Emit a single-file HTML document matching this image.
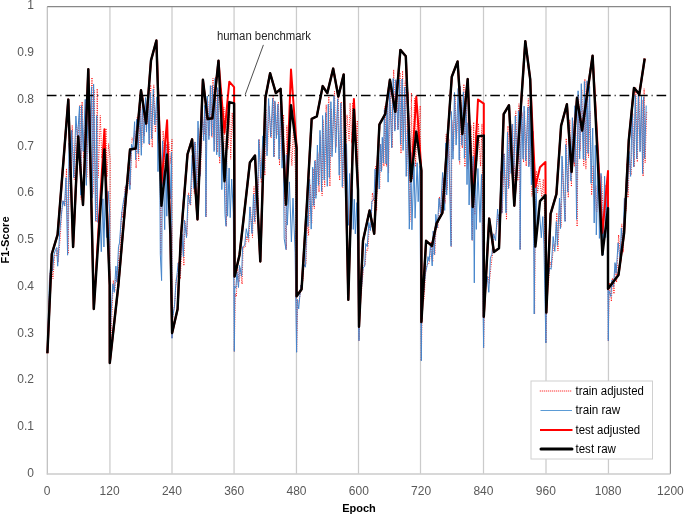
<!DOCTYPE html>
<html><head><meta charset="utf-8"><style>
html,body{margin:0;padding:0;background:#fff;}
svg{display:block;position:absolute;left:0;top:0;}
#t{will-change:transform;}
#w{position:relative;width:685px;height:516px;overflow:hidden;}
text{font-family:"Liberation Sans",sans-serif;}
</style></head><body>
<div id="w"><svg width="685" height="516" viewBox="0 0 685 516">
<rect width="685" height="516" fill="#fff"/>
<line x1="109.93" y1="6.66" x2="109.93" y2="473.80" stroke="#cbcbcb" stroke-width="1.25"/>
<line x1="172.00" y1="6.66" x2="172.00" y2="473.80" stroke="#cbcbcb" stroke-width="1.25"/>
<line x1="234.07" y1="6.66" x2="234.07" y2="473.80" stroke="#cbcbcb" stroke-width="1.25"/>
<line x1="296.45" y1="6.66" x2="296.45" y2="473.80" stroke="#cbcbcb" stroke-width="1.25"/>
<line x1="358.50" y1="6.66" x2="358.50" y2="473.80" stroke="#cbcbcb" stroke-width="1.25"/>
<line x1="420.50" y1="6.66" x2="420.50" y2="473.80" stroke="#cbcbcb" stroke-width="1.25"/>
<line x1="483.50" y1="6.66" x2="483.50" y2="473.80" stroke="#cbcbcb" stroke-width="1.25"/>
<line x1="546.00" y1="6.66" x2="546.00" y2="473.80" stroke="#cbcbcb" stroke-width="1.25"/>
<line x1="608.45" y1="6.66" x2="608.45" y2="473.80" stroke="#cbcbcb" stroke-width="1.25"/>
<line x1="47.3" y1="6.66" x2="47.3" y2="474.6" stroke="#bdbdbd" stroke-width="1.2"/>
<line x1="46.8" y1="474.0" x2="670.38" y2="474.0" stroke="#cbcbcb" stroke-width="1.5"/>
<polyline points="47.24,6.66 670.38,6.66 670.38,473.80" fill="none" stroke="#888" stroke-width="1.1"/>
<polyline points="47.3,352.3 48.3,333.7 49.9,274.1 51.5,268.4 53.0,278.7 54.6,255.4 56.1,256.0 57.2,248.7 58.2,261.9 60.3,236.2 61.9,208.6 63.4,200.5 65.0,206.0 66.5,168.5 68.1,253.8 69.6,149.6 71.2,173.6 72.2,125.3 74.3,180.0 76.4,123.9 78.0,138.1 80.0,105.2 81.1,199.3 82.1,101.7 83.7,158.0 85.7,99.3 86.8,177.8 88.9,84.1 89.9,147.8 92.0,77.5 93.0,193.5 94.1,90.0 96.1,222.1 97.2,88.7 98.2,177.6 100.3,115.5 101.8,158.2 103.4,143.9 104.4,175.8 106.0,128.3 107.0,177.0 108.6,143.5 110.2,159.3 109.7,363.1 110.7,350.2 111.7,320.1 113.3,280.4 114.8,291.1 116.4,271.0 117.4,281.6 119.0,252.2 120.0,249.7 121.6,212.1 122.6,217.8 124.2,200.3 125.2,186.6 126.3,195.0 127.8,188.0 129.4,166.9 130.4,185.2 132.0,137.8 133.5,141.4 135.1,130.5 136.1,168.2 137.2,117.0 138.7,160.8 140.3,102.0 141.8,146.4 142.9,96.1 144.4,135.9 146.0,106.0 147.0,123.8 148.1,94.9 149.6,145.1 150.7,84.9 152.2,147.4 153.8,84.9 155.3,132.2 157.4,106.8 158.5,142.7 160.0,129.7 160.7,254.2 162.1,203.5 163.1,130.7 165.2,168.2 166.3,144.1 167.3,167.7 168.8,142.2 170.9,163.7 172.0,139.0 172.0,338.3 173.0,316.3 175.1,299.6 176.1,278.8 177.7,276.2 178.7,262.2 180.3,279.0 182.4,234.4 183.9,265.7 184.9,221.0 187.0,235.3 188.6,192.6 190.7,205.8 192.7,161.4 194.3,193.5 195.3,142.3 196.9,184.7 198.5,127.9 200.5,174.4 202.6,116.7 204.2,134.7 205.2,110.6 206.2,216.9 206.2,136.5 207.8,101.0 209.4,135.8 210.9,85.4 212.0,137.5 213.0,78.3 214.6,150.0 215.6,77.3 217.2,152.2 218.2,89.8 219.7,163.6 221.3,88.4 222.3,151.5 223.9,107.1 225.5,159.3 226.4,226.2 227.0,105.9 228.1,149.1 229.6,111.5 230.7,159.2 232.2,112.6 233.8,145.9 234.3,351.4 235.3,293.7 236.4,296.6 237.4,264.4 239.0,282.0 240.0,267.7 242.1,284.1 243.1,247.5 245.2,247.2 246.8,236.2 248.8,242.1 250.4,206.7 252.5,237.5 254.0,186.7 255.1,223.3 256.6,176.3 258.2,209.8 259.2,139.2 261.3,182.8 263.4,143.6 264.9,175.4 266.0,109.1 267.5,151.1 269.1,106.1 271.2,137.9 273.2,96.5 274.3,157.0 275.3,102.3 276.9,135.1 278.4,102.1 279.5,165.5 281.0,98.5 282.6,160.5 283.6,114.6 284.7,206.9 286.4,249.6 286.8,125.6 287.8,166.4 289.9,135.2 291.9,165.7 293.5,127.0 295.6,176.2 296.6,352.3 297.7,303.9 299.2,299.7 301.3,288.6 302.3,286.2 303.9,267.1 306.0,264.0 307.5,215.6 308.6,235.6 310.1,184.4 311.7,223.6 313.2,168.8 314.3,209.0 315.3,160.3 316.4,195.6 317.9,152.8 319.0,192.2 320.5,135.6 322.1,195.8 323.1,119.9 324.7,186.6 326.2,104.6 327.8,177.4 328.8,95.3 329.9,186.3 331.4,108.4 332.5,150.8 334.5,91.3 336.1,147.2 338.2,90.0 339.7,180.4 341.3,101.7 342.8,187.7 344.9,110.0 346.0,151.4 347.0,114.7 349.1,140.5 350.1,103.1 351.7,143.3 352.7,102.5 353.8,141.7 354.8,122.6 355.8,131.3 357.4,120.5 359.0,340.7 360.0,301.4 361.5,291.7 363.6,265.8 365.2,264.7 366.2,249.5 367.8,250.3 369.3,227.1 370.9,228.6 372.4,192.9 374.5,202.8 375.6,166.1 376.6,210.9 378.2,146.2 379.7,188.6 380.8,143.8 381.8,169.6 382.8,138.2 383.9,166.3 384.9,106.0 386.5,166.4 387.5,93.1 388.6,172.9 390.1,80.3 392.2,147.7 393.7,69.6 395.3,129.5 396.3,81.4 398.4,128.9 400.0,72.6 401.0,153.5 402.6,70.8 403.6,141.9 405.2,80.8 406.7,176.2 408.3,92.7 409.8,167.3 409.9,221.5 411.4,93.0 412.4,178.9 414.5,98.6 415.6,166.7 417.6,109.4 418.7,152.5 420.2,105.7 421.3,360.8 422.3,301.6 423.9,300.7 425.9,268.4 427.5,264.5 428.5,264.5 429.6,261.1 431.1,241.6 432.7,261.9 433.7,234.3 434.8,254.5 436.3,222.9 437.9,228.5 439.5,196.8 441.0,214.5 443.1,178.1 445.2,203.3 446.2,134.2 447.2,189.8 448.8,138.8 450.4,198.5 451.4,246.3 451.9,120.3 453.5,150.4 455.0,97.0 456.6,138.9 458.7,96.7 459.7,164.2 460.7,94.5 462.3,148.1 463.9,84.1 464.9,166.9 466.5,99.2 467.5,168.8 468.5,106.0 469.6,153.3 471.1,125.5 472.2,173.6 472.4,240.2 473.7,122.2 474.8,214.7 475.8,130.8 476.8,160.9 478.4,123.3 480.5,166.4 482.0,123.9 483.6,347.7 484.6,294.0 485.7,288.3 487.8,276.1 489.3,283.6 490.9,267.0 492.4,254.6 494.0,235.7 496.1,232.3 498.1,214.1 500.2,222.9 501.3,176.0 502.3,212.8 504.4,153.3 506.5,219.8 508.0,125.9 509.0,187.4 510.6,120.2 511.6,165.0 512.7,123.8 514.2,182.1 515.8,110.9 517.9,180.9 518.9,103.8 520.4,249.6 520.5,149.1 522.0,112.8 523.6,162.3 524.6,111.0 526.2,166.2 528.3,98.6 529.3,165.2 530.3,133.6 531.9,196.2 533.5,187.1 534.6,314.0 535.5,200.6 536.6,170.8 537.6,192.8 539.7,178.2 541.8,196.8 543.3,179.2 544.4,206.1 545.9,343.0 547.0,288.8 548.5,283.4 550.1,262.0 551.6,266.6 553.7,244.3 555.3,246.4 556.8,212.9 557.9,250.9 560.0,203.3 561.0,227.1 562.5,160.6 564.6,205.7 565.4,221.5 566.2,138.4 568.3,197.6 569.8,119.6 571.4,186.7 572.9,120.5 574.5,166.6 575.5,107.8 577.1,226.6 578.6,95.9 580.2,150.5 581.8,89.5 583.8,166.0 584.9,79.1 585.9,169.1 587.5,84.8 588.5,157.5 590.1,111.4 591.6,195.1 593.2,165.4 594.7,210.2 595.8,185.5 596.8,211.8 598.9,175.3 599.9,202.1 601.5,175.7 603.6,224.0 605.1,184.9 606.2,227.9 607.7,186.4 608.3,340.7 609.3,282.7 611.4,301.4 612.4,278.1 614.0,293.9 615.5,263.9 616.6,282.3 618.6,234.9 620.7,261.1 621.8,223.9 623.3,252.2 624.9,199.4 625.9,210.7 627.0,163.4 628.0,197.7 629.5,157.5 631.1,174.9 632.7,113.5 634.2,167.0 635.8,87.6 637.3,162.0 638.9,93.7 640.5,150.8 642.0,99.7 643.1,176.4 644.1,88.6 645.1,162.9 646.7,111.9" fill="none" stroke="#ff0000" stroke-width="1" stroke-dasharray="0.9 1.4"/>
<polyline points="47.3,352.3 47.8,336.8 49.4,280.7 51.0,263.6 52.5,270.9 54.1,254.1 55.6,249.7 56.7,247.5 57.7,266.2 59.8,230.7 61.4,214.8 62.9,200.7 64.5,206.1 66.0,177.7 67.6,255.2 69.1,143.0 70.7,173.1 71.7,130.3 73.8,177.6 75.9,116.0 77.5,138.6 79.5,106.1 80.6,195.2 81.6,105.5 83.2,151.4 85.2,99.4 86.3,185.4 88.4,93.4 89.4,153.2 91.5,86.8 92.5,197.9 93.6,84.2 95.6,220.8 96.7,115.5 97.7,222.3 99.8,212.1 101.3,251.7 102.9,198.8 103.9,247.0 105.5,186.3 106.5,237.5 108.1,191.2 109.7,212.9 109.7,363.1 110.2,345.1 111.2,312.0 112.8,283.8 114.3,292.4 115.9,266.1 116.9,282.2 118.5,246.7 119.5,242.9 121.1,220.5 122.1,210.1 123.7,199.9 124.7,195.3 125.8,186.4 127.3,182.0 128.9,169.2 129.9,189.5 131.5,144.3 133.0,148.4 134.6,121.7 135.6,159.7 136.7,119.3 138.2,153.6 139.8,108.8 141.3,155.3 142.4,102.3 143.9,143.3 145.5,97.6 146.5,132.1 147.6,94.6 149.1,144.1 150.2,92.6 151.7,138.8 153.3,89.2 154.8,124.9 156.9,96.9 158.0,171.6 159.5,120.7 160.3,254.2 161.6,280.6 162.6,140.8 164.7,229.7 165.8,144.5 166.8,216.2 168.3,146.6 170.4,198.9 171.5,152.3 172.0,338.3 172.5,318.8 174.6,305.1 175.6,286.9 177.2,272.8 178.2,262.9 179.8,274.6 181.9,234.3 183.4,256.6 184.4,220.0 186.5,237.7 188.1,195.0 190.2,204.5 192.2,155.2 193.8,188.6 194.8,141.9 196.4,192.1 198.0,121.1 200.0,176.2 202.1,111.9 203.7,140.7 204.7,105.4 205.7,144.9 205.8,216.9 207.3,96.1 208.9,139.6 210.4,85.7 211.5,136.0 212.5,85.6 214.1,151.6 215.1,78.4 216.7,154.8 217.7,87.6 219.2,156.8 220.8,105.2 221.8,189.6 223.4,142.4 225.0,214.5 226.0,226.2 226.5,153.8 227.6,216.2 229.1,168.0 230.2,217.6 231.7,179.1 233.3,213.1 234.3,351.4 234.8,286.3 235.9,288.1 236.9,271.7 238.5,287.5 239.5,265.4 241.6,276.3 242.6,246.8 244.7,245.5 246.3,228.7 248.3,238.4 249.9,206.9 252.0,233.5 253.5,194.3 254.6,221.5 256.1,179.8 257.7,203.7 258.7,139.6 260.8,178.4 262.9,135.9 264.4,170.3 265.5,102.1 267.0,155.8 268.6,98.5 270.7,136.8 272.7,98.1 273.8,156.9 274.8,100.9 276.4,138.6 277.9,104.1 279.0,159.2 280.5,106.2 282.1,168.2 283.1,123.6 284.2,238.7 286.0,249.6 286.3,154.7 287.3,225.1 289.4,181.9 291.4,241.9 293.0,198.1 295.1,252.8 296.6,352.3 297.2,299.2 298.7,308.9 300.8,285.0 301.8,288.3 303.4,263.4 305.5,267.2 307.0,215.5 308.1,226.5 309.6,179.2 311.2,229.1 312.7,167.2 313.8,205.6 314.8,160.8 315.9,198.4 317.4,145.0 318.5,185.4 320.0,130.3 321.6,191.4 322.6,115.5 324.2,180.1 325.7,112.6 327.3,186.3 328.3,104.1 329.4,177.4 330.9,101.7 332.0,156.7 334.0,95.8 335.6,152.7 337.7,98.8 339.2,175.2 340.8,103.0 342.3,186.7 344.4,124.2 345.5,201.4 346.5,143.8 348.6,225.3 349.6,173.5 351.2,229.3 352.2,188.9 353.3,229.4 354.3,199.2 355.3,233.9 356.9,202.6 359.0,340.7 359.5,296.5 361.0,293.7 363.1,268.0 364.7,266.1 365.7,243.5 367.3,246.7 368.8,222.5 370.4,230.5 371.9,201.3 374.0,198.9 375.1,169.1 376.1,206.3 377.7,155.3 379.2,189.0 380.3,144.3 381.3,171.5 382.3,137.3 383.4,162.9 384.4,109.7 386.0,163.9 387.0,96.8 388.1,182.1 389.6,86.0 391.7,147.8 393.2,78.5 394.8,131.1 395.8,79.7 397.9,129.9 399.5,79.5 400.5,144.4 402.1,79.0 403.1,150.4 404.7,87.0 406.2,176.4 407.8,129.5 409.3,229.1 409.5,221.5 410.9,152.5 411.9,229.8 414.0,162.5 415.1,218.2 417.1,162.7 418.2,201.7 419.7,165.7 421.3,360.8 421.8,293.2 423.4,293.5 425.4,273.6 427.0,266.0 428.0,256.6 429.1,261.2 430.6,243.7 432.2,265.9 433.2,231.0 434.3,254.9 435.8,214.3 437.4,227.6 439.0,198.3 440.5,212.6 442.6,172.5 444.7,210.4 445.7,142.9 446.7,195.0 448.3,130.5 449.9,196.9 451.0,246.3 451.4,111.5 453.0,159.2 454.5,92.5 456.1,145.1 458.2,88.4 459.2,160.4 460.2,86.2 461.8,145.3 463.4,91.9 464.4,158.2 466.0,91.2 467.0,184.6 468.0,122.8 469.1,205.0 470.6,144.6 471.7,226.5 472.0,240.2 473.2,156.2 474.3,282.9 475.3,161.4 476.3,229.4 477.9,168.5 480.0,222.4 481.5,174.4 483.6,347.7 484.1,293.9 485.2,285.6 487.3,276.6 488.8,292.3 490.4,257.9 491.9,254.3 493.5,233.8 495.6,240.6 497.6,209.1 499.7,231.2 500.8,171.4 501.8,213.3 503.9,153.8 506.0,212.8 507.5,132.2 508.5,188.6 510.1,125.8 511.1,173.5 512.2,124.2 513.7,178.6 515.3,115.9 517.4,176.2 518.4,110.8 520.0,146.8 520.0,249.6 521.5,106.5 523.1,159.2 524.1,106.1 525.7,161.0 527.8,107.3 528.8,166.9 529.8,106.3 531.4,184.8 533.0,131.2 534.2,314.0 535.0,232.1 536.1,183.4 537.1,227.3 539.2,208.3 541.3,237.8 542.8,216.6 543.9,244.3 545.9,343.0 546.5,289.1 548.0,278.6 549.6,267.8 551.1,269.3 553.2,236.5 554.8,251.4 556.3,221.6 557.4,245.4 559.5,198.1 560.5,228.6 562.0,156.1 564.1,202.5 565.0,221.5 565.7,144.5 567.8,192.1 569.3,124.3 570.9,181.0 572.4,117.7 574.0,162.4 575.0,105.7 576.6,219.4 578.1,90.8 579.7,158.9 581.3,83.7 583.3,158.9 584.4,81.5 585.4,160.3 587.0,80.8 588.0,153.4 589.6,86.4 591.1,183.3 592.7,128.0 594.2,223.0 595.3,145.3 596.3,234.9 598.4,159.4 599.4,238.4 601.0,173.4 603.1,255.2 604.6,176.2 605.7,237.6 607.2,180.9 608.3,340.7 608.8,290.7 610.9,296.5 611.9,280.1 613.5,286.9 615.0,262.6 616.1,273.4 618.1,242.9 620.2,259.9 621.3,228.1 622.8,246.1 624.4,198.3 625.4,213.6 626.5,171.9 627.5,191.7 629.0,151.4 630.6,176.4 632.2,106.7 633.7,166.9 635.3,95.3 636.8,158.9 638.4,92.2 640.0,151.8 641.5,96.3 642.6,173.6 643.6,96.9 644.6,158.5 646.2,105.5" fill="none" stroke="#4585cb" stroke-width="1"/>
<polyline points="47.4,353.3 51.8,254.0 57.6,234.6 68.3,99.6 73.1,247.0 78.2,136.5 83.0,205.0 88.3,69.3 93.8,309.0 104.4,129.3 109.7,285.0 109.8,362.9 118.4,285.0 130.0,149.5 135.7,148.5 141.0,90.3 146.1,123.5 151.0,60.4 156.4,40.5 161.4,184.1 167.1,120.3 170.4,235.0 172.1,333.0 177.6,309.0 180.7,240.0 187.5,154.3 192.1,139.3 197.5,219.4 202.9,79.7 207.6,119.0 212.4,118.3 218.5,60.7 224.5,132.8 229.3,81.7 234.1,87.1 234.6,276.4 239.5,255.0 249.9,162.5 255.0,155.5 260.3,261.5 265.4,97.8 270.1,73.2 275.9,93.1 280.6,88.9 286.0,204.6 291.0,69.5 296.9,150.0 296.6,296.2 301.6,289.2 306.8,206.0 311.7,118.8 316.8,116.4 322.7,86.1 327.3,93.1 333.2,68.6 338.3,96.6 343.7,74.4 348.3,299.7 353.9,98.9 358.0,190.0 359.0,326.8 363.0,240.8 369.6,210.4 374.2,233.8 379.4,124.6 385.2,114.1 389.9,79.8 395.3,111.8 400.4,49.9 405.8,56.2 410.9,181.2 416.3,96.6 421.4,170.7 421.4,321.9 426.1,240.8 431.9,245.9 436.6,223.3 442.4,212.8 451.8,76.7 457.6,61.5 462.3,134.0 467.7,79.1 472.8,206.9 478.0,99.6 483.8,103.6 483.8,316.8 489.2,218.6 493.9,252.0 499.0,248.3 503.7,114.1 509.0,105.2 514.3,205.7 519.6,126.0 525.3,41.2 530.2,79.1 535.4,187.0 540.0,167.2 545.4,162.0 546.3,312.6 550.6,213.9 556.4,194.1 561.1,125.8 566.9,104.3 571.6,171.9 577.0,97.8 582.1,130.5 587.3,93.0 592.6,55.7 602.4,233.0 608.0,171.0 608.0,288.8 618.5,274.9 624.1,233.0 628.8,140.0 634.0,87.9 639.3,94.3 644.7,58.5" fill="none" stroke="#ff0000" stroke-width="2" stroke-linejoin="round"/>
<polyline points="47.4,353.3 51.8,254.0 57.6,234.6 68.3,99.6 73.1,247.0 78.2,136.5 83.0,205.0 88.3,69.3 93.8,309.0 104.4,149.5 109.7,285.0 109.8,362.9 118.4,285.0 130.0,149.5 135.7,148.5 141.0,90.3 146.1,123.5 151.0,60.4 156.4,40.5 161.4,205.8 167.1,154.5 170.4,235.0 172.1,333.0 177.6,309.0 180.7,240.0 187.5,154.3 192.1,139.3 197.5,219.4 202.9,79.7 207.6,119.0 212.4,118.3 218.5,60.7 224.5,181.2 229.3,102.1 234.1,103.4 234.6,276.4 239.5,255.0 249.9,162.5 255.0,155.5 260.3,261.5 265.4,97.8 270.1,73.2 275.9,93.1 280.6,88.9 286.0,204.6 291.0,105.2 296.5,148.0 296.6,296.2 301.6,289.2 306.8,206.0 311.7,118.8 316.8,116.4 322.7,86.1 327.3,93.1 333.2,68.6 338.3,96.6 343.7,74.4 348.3,299.7 353.9,109.6 358.0,190.0 359.0,326.8 363.0,240.8 369.6,210.4 374.2,233.8 379.4,124.6 385.2,114.1 389.9,79.8 395.3,111.8 400.4,49.9 405.8,56.2 410.9,181.2 416.3,131.6 421.4,170.7 421.4,321.9 426.1,240.8 431.9,245.9 436.6,223.3 442.4,212.8 451.8,76.7 457.6,61.5 462.3,134.0 467.7,79.1 472.8,206.9 478.0,136.3 483.8,135.6 483.8,316.8 489.2,218.6 493.9,252.0 499.0,248.3 503.7,114.1 509.0,105.2 514.3,205.7 519.6,126.0 525.3,41.2 530.2,79.1 535.4,246.6 540.0,201.1 545.4,195.2 546.3,312.6 550.6,213.9 556.4,194.1 561.1,125.8 566.9,104.3 571.6,171.9 577.0,97.8 582.1,130.5 587.3,93.0 592.6,55.7 602.4,254.7 608.0,208.2 608.0,288.8 618.5,274.9 624.1,233.0 628.8,140.0 634.0,87.9 639.3,94.3 644.7,58.5" fill="none" stroke="#000" stroke-width="2.45" stroke-linejoin="round"/>
<line x1="46.9" y1="95.4" x2="667" y2="95.4" stroke="#000" stroke-width="1.5" stroke-dasharray="9.6 3.9 1 3.975"/>
</svg>
<svg id="t" width="685" height="516" viewBox="0 0 685 516">
<text x="217" y="40.3" font-size="12.5" fill="#262626" textLength="94" lengthAdjust="spacingAndGlyphs">human benchmark</text>
<line x1="263.4" y1="44.9" x2="245.2" y2="94.6" stroke="#222" stroke-width="0.8"/>
<text x="34" y="476.9" font-size="12" fill="#595959" text-anchor="end">0</text>
<text x="34" y="430.1" font-size="12" fill="#595959" text-anchor="end">0.1</text>
<text x="34" y="383.4" font-size="12" fill="#595959" text-anchor="end">0.2</text>
<text x="34" y="336.6" font-size="12" fill="#595959" text-anchor="end">0.3</text>
<text x="34" y="289.9" font-size="12" fill="#595959" text-anchor="end">0.4</text>
<text x="34" y="243.1" font-size="12" fill="#595959" text-anchor="end">0.5</text>
<text x="34" y="196.3" font-size="12" fill="#595959" text-anchor="end">0.6</text>
<text x="34" y="149.6" font-size="12" fill="#595959" text-anchor="end">0.7</text>
<text x="34" y="102.8" font-size="12" fill="#595959" text-anchor="end">0.8</text>
<text x="34" y="56.1" font-size="12" fill="#595959" text-anchor="end">0.9</text>
<text x="34" y="9.3" font-size="12" fill="#595959" text-anchor="end">1</text>
<text x="47.2" y="494.9" font-size="12" fill="#595959" text-anchor="middle">0</text>
<text x="109.6" y="494.9" font-size="12" fill="#595959" text-anchor="middle">120</text>
<text x="171.9" y="494.9" font-size="12" fill="#595959" text-anchor="middle">240</text>
<text x="234.2" y="494.9" font-size="12" fill="#595959" text-anchor="middle">360</text>
<text x="296.5" y="494.9" font-size="12" fill="#595959" text-anchor="middle">480</text>
<text x="358.8" y="494.9" font-size="12" fill="#595959" text-anchor="middle">600</text>
<text x="421.1" y="494.9" font-size="12" fill="#595959" text-anchor="middle">720</text>
<text x="483.4" y="494.9" font-size="12" fill="#595959" text-anchor="middle">840</text>
<text x="545.8" y="494.9" font-size="12" fill="#595959" text-anchor="middle">960</text>
<text x="608.1" y="494.9" font-size="12" fill="#595959" text-anchor="middle">1080</text>
<text x="670.4" y="494.9" font-size="12" fill="#595959" text-anchor="middle">1200</text>
<text x="359" y="512" font-size="11" font-weight="bold" fill="#000" text-anchor="middle">Epoch</text>
<text transform="translate(8.7,240) rotate(-90)" font-size="11.2" font-weight="bold" fill="#000" text-anchor="middle" textLength="47" lengthAdjust="spacingAndGlyphs">F1-Score</text>
<rect x="531" y="381" width="121.5" height="78" fill="#fff" stroke="#d0d0d0" stroke-width="1"/>
<line x1="539.8" y1="391.0" x2="572.0" y2="391.0" stroke="#ff0000" stroke-width="1" stroke-dasharray="1 1" stroke-linecap="butt"/>
<text x="575.5" y="394.8" font-size="12" fill="#000" textLength="68.4" lengthAdjust="spacingAndGlyphs">train adjusted</text>
<line x1="540.5" y1="410.5" x2="572.0" y2="410.5" stroke="#5b9bd5" stroke-width="1" stroke-linecap="butt"/>
<text x="575.5" y="414.3" font-size="12" fill="#000" textLength="44.8" lengthAdjust="spacingAndGlyphs">train raw</text>
<line x1="540.0" y1="430.0" x2="572.5" y2="430.0" stroke="#ff0000" stroke-width="2" stroke-linecap="butt"/>
<text x="575.5" y="433.8" font-size="12" fill="#000" textLength="64.7" lengthAdjust="spacingAndGlyphs">test adjusted</text>
<line x1="541.0" y1="448.9" x2="572.0" y2="448.9" stroke="#000" stroke-width="3" stroke-linecap="round"/>
<text x="575.5" y="452.7" font-size="12" fill="#000" textLength="40.4" lengthAdjust="spacingAndGlyphs">test raw</text>
</svg></div>
</body></html>
